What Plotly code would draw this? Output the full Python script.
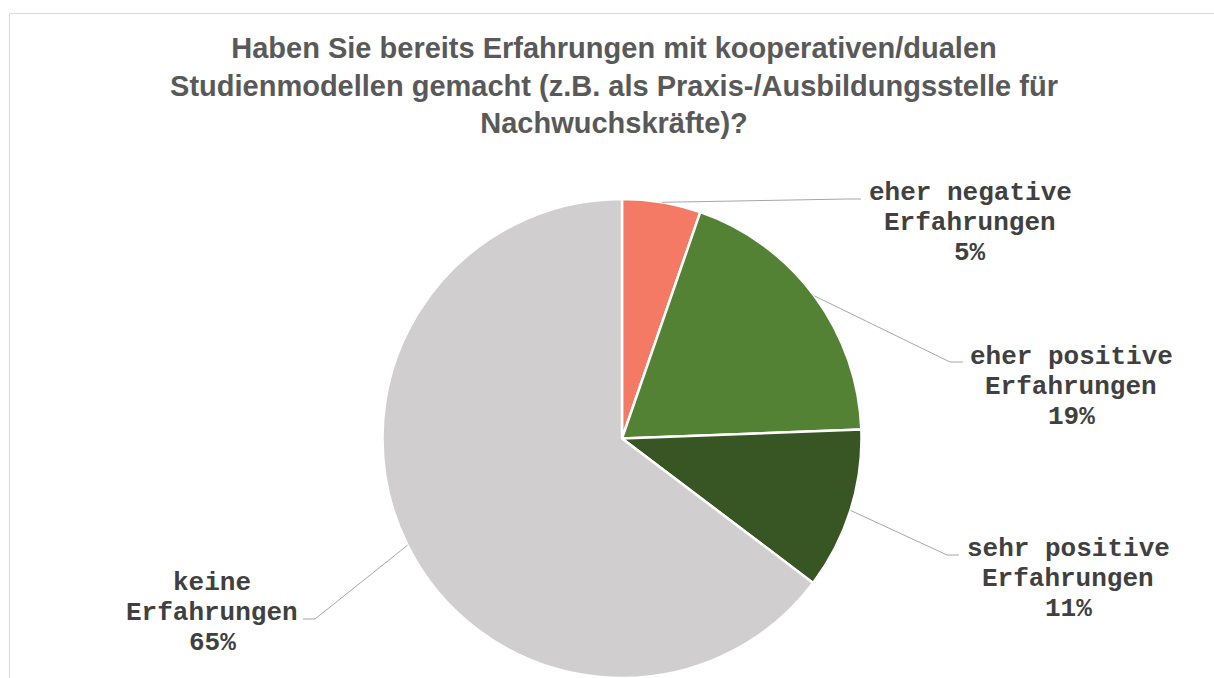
import math
import plotly.graph_objects as go

# ---- data ----
categories = ["eher negative Erfahrungen", "eher positive Erfahrungen",
              "sehr positive Erfahrungen", "keine Erfahrungen"]
label_lines = [["eher negative", "Erfahrungen"], ["eher positive", "Erfahrungen"],
               ["sehr positive", "Erfahrungen"], ["keine", "Erfahrungen"]]
values = [5.3, 19.1, 10.9, 64.7]
colors = ["#F47A66", "#548235", "#375623", "#D0CECE"]
title_text = ("Haben Sie bereits Erfahrungen mit kooperativen/dualen<br>"
              "Studienmodellen gemacht (z.B. als Praxis-/Ausbildungsstelle für<br>"
              "Nachwuchskräfte)?")

# ---- layout (pixels) ----
W, H = 1214, 678
M_T = 199
PAPER_H = H - M_T
CX = 622
R = PAPER_H / 2.0
CY = M_T + R

# label placement: (elbow x, elbow y, end x, label center x, first line y)
label_pos = [
    (848, 199, 861, 970, 193),
    (950, 362, 963, 1071, 357),
    (947, 555, 959, 1068, 549),
    (315, 619, 303, 212, 583),
]
LINE_GAP = 30
LABEL_FONT = "Courier New, Courier, Nimbus Mono PS, Nimbus Mono L, Liberation Mono, monospace"


def px(x):
    return x / W


def py(y):
    return (H - y) / PAPER_H


fig = go.Figure(go.Pie(
    labels=categories, values=values, sort=False, direction="clockwise",
    rotation=0, marker=dict(colors=colors, line=dict(color="white", width=2.5)),
    textinfo="none", hoverinfo="label+percent", showlegend=False,
    domain=dict(x=[px(CX - R), px(CX + R)], y=[0, 1]),
))

total = sum(values)
shapes = []
annotations = []
cum = 0.0
for i, v in enumerate(values):
    mid = (cum + v / 2) / total * 2 * math.pi
    cum += v
    sx = CX + R * math.sin(mid)
    sy = CY - R * math.cos(mid)
    ex, ey, endx, lcx, ly = label_pos[i]
    shapes.append(dict(
        type="path", xref="paper", yref="paper",
        path=f"M {px(sx)},{py(sy)} L {px(ex)},{py(ey)} L {px(endx)},{py(ey)}",
        line=dict(color="#A6A6A6", width=1)))
    pct = f"{round(v / total * 100):.0f}%"
    lines = label_lines[i] + [pct]
    for j, t in enumerate(lines):
        annotations.append(dict(
            text=t, x=px(lcx), y=py(ly + j * LINE_GAP), xref="paper", yref="paper",
            xanchor="center", yanchor="middle", showarrow=False,
            font=dict(family=LABEL_FONT, size=26, color="#404040", weight="bold")))

# chart border
shapes.append(dict(type="rect", xref="paper", yref="paper",
                   x0=px(9.5), y0=py(720), x1=px(1240), y1=py(13.5),
                   line=dict(color="#D9D9D9", width=1), fillcolor="rgba(0,0,0,0)"))

fig.update_layout(
    width=W, height=H,
    margin=dict(l=0, r=0, t=M_T, b=0),
    paper_bgcolor="white", plot_bgcolor="white",
    title=dict(text=title_text, x=614 / W, xanchor="center", xref="container",
               y=1 - 58 / H, yanchor="top", yref="container",
               font=dict(family="Liberation Sans, Arial, sans-serif", size=29,
                         color="#595959", weight="bold")),
    shapes=shapes, annotations=annotations,
)

fig.write_html("out.html")
